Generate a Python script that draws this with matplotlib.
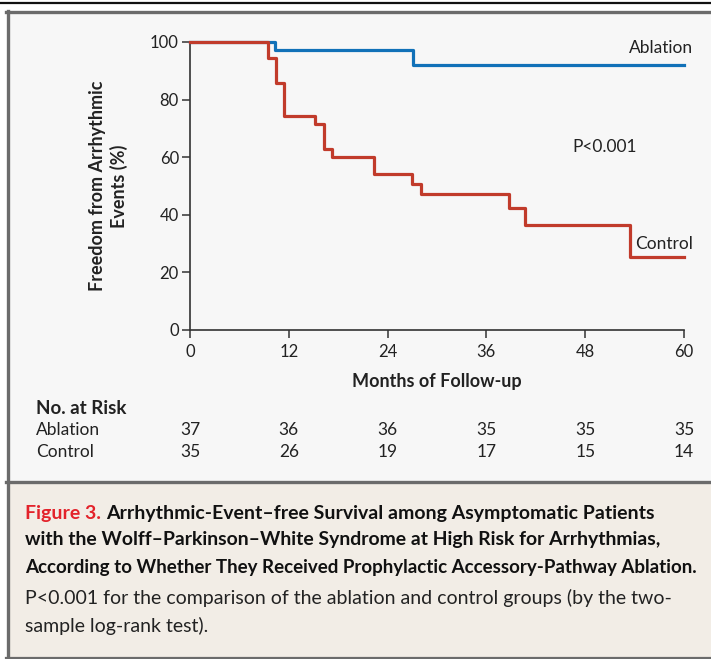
import matplotlib
matplotlib.use("Agg")
import matplotlib.pyplot as plt
from matplotlib.patches import Rectangle
from matplotlib.lines import Line2D
from matplotlib import font_manager

# Kaplan-Meier estimates (months, % free from arrhythmic events)
ablation_months = [0, 10.3, 27.1, 60]
ablation_pct = [100, 97.3, 91.9, 91.9]
control_months = [0, 9.5, 10.4, 11.4, 15.2, 16.3, 17.3, 22.3, 27.0, 28.1, 38.8, 40.7, 53.5, 60]
control_pct = [100, 94.3, 85.7, 74.3, 71.4, 62.9, 60.0, 54.3, 50.7, 47.1, 42.3, 36.3, 25.4, 25.4]

x_ticks = [0, 12, 24, 36, 48, 60]
y_ticks = [0, 20, 40, 60, 80, 100]
risk_groups = ["Ablation", "Control"]
risk_ablation = [37, 36, 36, 35, 35, 35]
risk_control = [35, 26, 19, 17, 15, 14]

caption_label = "Figure 3."
caption_title = [
    "Arrhythmic-Event\u2013free Survival among Asymptomatic Patients",
    "with the Wolff\u2013Parkinson\u2013White Syndrome at High Risk for Arrhythmias,",
    "According to Whether They Received Prophylactic Accessory-Pathway Ablation.",
]
caption_body = [
    "P<0.001 for the comparison of the ablation and control groups (by the two-",
    "sample log-rank test).",
]

available = {f.name for f in font_manager.fontManager.ttflist}
FONT = "Lato" if "Lato" in available else "DejaVu Sans"
plt.rcParams["font.family"] = [FONT, "DejaVu Sans"]

W, H = 711, 659
BLUE = "#1171b8"
RED = "#c13b2b"
INK = "#222222"
FRAME = "#6b6b6b"
PANEL = "#f7f7f7"
CAPTION_BG = "#f2ede6"
CAP_SIZE = 14

fig = plt.figure(figsize=(W / 100, H / 100), dpi=100)
fig.patch.set_facecolor("white")


def fx(px):
    return px / W


def fy(py):
    return 1 - py / H


# panel backgrounds and frame
fig.add_artist(Rectangle((fx(7), fy(481)), fx(W), fy(11) - fy(481),
                         transform=fig.transFigure, facecolor=PANEL, edgecolor="none", zorder=0))
fig.add_artist(Rectangle((fx(7), fy(657)), fx(W), fy(481) - fy(657),
                         transform=fig.transFigure, facecolor=CAPTION_BG, edgecolor="none", zorder=0))
fig.add_artist(Line2D([0, 1], [fy(3), fy(3)], transform=fig.transFigure, color="#111111", lw=1.6))
fig.add_artist(Line2D([fx(6), 1], [fy(11.5), fy(11.5)], transform=fig.transFigure, color=FRAME, lw=2.4))
fig.add_artist(Line2D([fx(7.5), fx(7.5)], [fy(10.5), fy(658)], transform=fig.transFigure, color=FRAME, lw=2.4))
fig.add_artist(Line2D([fx(6), 1], [fy(481.5), fy(481.5)], transform=fig.transFigure, color=FRAME, lw=2.4))
fig.add_artist(Line2D([fx(6), 1], [fy(657.5), fy(657.5)], transform=fig.transFigure, color=FRAME, lw=1.6))

# survival plot
ax = fig.add_axes([fx(190), fy(330), fx(684) - fx(190), fy(42) - fy(330)])
ax.set_facecolor("none")
ax.step(ablation_months, ablation_pct, where="post", color=BLUE, lw=2.3, clip_on=False, zorder=3)
ax.step(control_months, control_pct, where="post", color=RED, lw=2.3, clip_on=False, zorder=3)
ax.set_xlim(0, 60)
ax.set_ylim(0, 100)
ax.set_xticks(x_ticks)
ax.set_yticks(y_ticks)
for s in ("top", "right"):
    ax.spines[s].set_visible(False)
for s in ("left", "bottom"):
    ax.spines[s].set_color("#333333")
    ax.spines[s].set_linewidth(1.2)
ax.tick_params(axis="both", direction="out", length=6, width=1.1, color="#333333",
               labelsize=12, labelcolor=INK)
ax.tick_params(axis="x", pad=4)
ax.tick_params(axis="y", pad=2)

fig.text(fx(437), fy(382), "Months of Follow-up", ha="center", va="center",
         fontsize=13, fontweight="bold", color=INK)
fig.text(fx(108.5), fy(186), "Freedom from Arrhythmic\nEvents (%)", ha="center", va="center",
         rotation=90, multialignment="center", fontsize=13, fontweight="bold",
         color=INK, linespacing=1.25)

ax.text(61.1, 97.9, "Ablation", ha="right", va="center", fontsize=12.5, color=INK)
ax.text(61.1, 29.9, "Control", ha="right", va="center", fontsize=12.5, color=INK)
ax.text(46.5, 63.5, "P<0.001", ha="left", va="center", fontsize=12.5, color=INK)

# number at risk table
fig.text(fx(36), fy(408), "No. at Risk", ha="left", va="center",
         fontsize=13.5, fontweight="bold", color=INK)
for row_y, name, counts in zip([430, 452], risk_groups, [risk_ablation, risk_control]):
    fig.text(fx(36), fy(row_y), name, ha="left", va="center", fontsize=12.5, color=INK)
    for t, n in zip(x_ticks, counts):
        xf = ax.transData.transform((t, 0))[0] / W
        fig.text(xf, fy(row_y), str(n), ha="center", va="center", fontsize=12.5, color=INK)

# caption: each line is sized so that it ends at its set right edge
renderer = fig.canvas.get_renderer()


def fitted_line(x0, y, s, right, **kw):
    t = fig.text(fx(x0), fy(y), s, ha="left", va="center", fontsize=CAP_SIZE, **kw)
    w = t.get_window_extent(renderer).width
    t.set_fontsize(min(CAP_SIZE, CAP_SIZE * (right - x0) / w))
    return t


lbl = fig.text(fx(25), fy(513), caption_label, ha="left", va="center", fontsize=CAP_SIZE,
               fontweight="bold", color="#e3232b")
lw_px = lbl.get_window_extent(renderer).width
space_px = CAP_SIZE * 100 / 72 * 0.25
fitted_line(25 + lw_px + space_px, 513, caption_title[0], 655,
            fontweight="bold", color="#111111")
for y, line, right in zip([540, 567], caption_title[1:], [664, 700]):
    fitted_line(25, y, line, right, fontweight="bold", color="#111111")
for y, line, right in zip([598, 626], caption_body, [683, 243]):
    fitted_line(25, y, line, right, color="#222222")

fig.savefig("out.png", dpi=100, facecolor=fig.get_facecolor())
